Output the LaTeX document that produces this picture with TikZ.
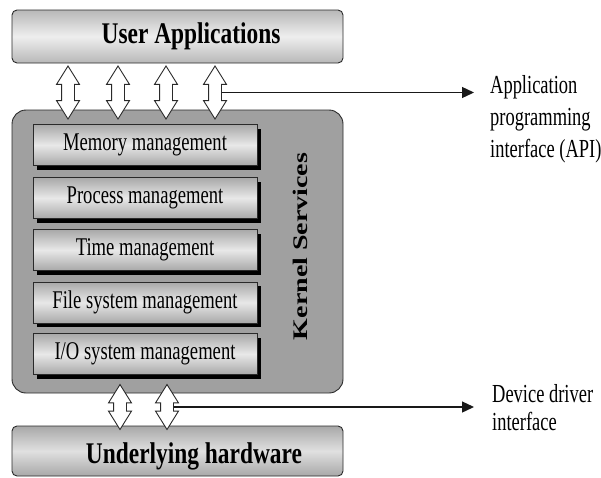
\documentclass[tikz,border=0pt]{standalone}
\usepackage{fontspec}
\usepackage{graphicx}
\usetikzlibrary{shapes.arrows,arrows.meta,calc}
\setmainfont{Liberation Serif}
\newfontfamily\titlefont{Liberation Serif}[FakeStretch=0.78]
\newfontfamily\boxfont{Liberation Serif}[FakeStretch=0.73]
\newfontfamily\notefont{Liberation Serif}[FakeStretch=0.71]

\definecolor{inkline}{HTML}{2A2A2A}
\definecolor{kernelfill}{HTML}{A0A0A0}
\definecolor{titleedge}{HTML}{B8B8B8}
\definecolor{titlemid}{HTML}{EEEEEE}
\definecolor{hwedge}{HTML}{A8A8A8}
\definecolor{hwmid}{HTML}{E0E0E0}
\definecolor{svcedge}{HTML}{A8A8A8}
\definecolor{svcmid}{HTML}{E8E8E8}

\begin{document}
\begin{tikzpicture}[x=1pt,y=-1pt,
  titlebox/.style={draw=inkline, line width=0.9pt, rounded corners=5pt,
    top color=titleedge, bottom color=titleedge, middle color=titlemid,
    minimum width=331pt, inner sep=0pt},
  hwbox/.style={titlebox, top color=hwedge, bottom color=hwedge, middle color=hwmid},
  titletext/.style={font=\titlefont\bfseries\fontsize{30}{30}\selectfont, inner sep=0pt, anchor=base},
  kernelbox/.style={draw=inkline, line width=0.9pt, rounded corners=14pt,
    fill=kernelfill, inner sep=0pt},
  svcshadow/.style={fill=black, minimum width=224pt, minimum height=41pt, inner sep=0pt},
  svcbox/.style={draw=inkline, line width=0.9pt, top color=svcedge, bottom color=svcedge,
    middle color=svcmid, minimum width=224pt, minimum height=41pt, inner sep=0pt,
    font=\boxfont\fontsize{25.5}{26}\selectfont},
  bigarrow/.style={double arrow, draw=inkline, fill=white, line width=0.9pt,
    rotate=90, inner xsep=0pt, inner ysep=6pt, double arrow head extend=5pt,
    double arrow tip angle=64, minimum width=22pt},
  conn/.style={draw=black!90, line width=1.3pt, -{Triangle[length=12pt,width=11pt]}},
  note/.style={font=\notefont\fontsize{26}{32}\selectfont, align=left, inner sep=0pt, anchor=north west}
]
\useasboundingbox (0,0) rectangle (601,477);

% outer layers
\node[titlebox, minimum height=53pt] (user) at (177.5,36.5) {};
\node[titletext] (userlbl) at (191,43) {User Applications};

\node[kernelbox, minimum width=331pt, minimum height=283pt] (kernel) at (177.5,251.5) {};

\node[hwbox, minimum height=50pt] (hw) at (177.5,451) {};
\node[titletext] (hwlbl) at (194,463) {Underlying hardware};

% kernel services stack, each with a hard shadow
\foreach \yy in {145,198,250,302.5,354}
  \node[svcshadow] at (149,\yy+4) {};
\node[svcbox] (mem)  at (145,145)   {Memory management};
\node[svcbox] (proc) at (145,198)   {Process management};
\node[svcbox] (time) at (145,250)   {Time management};
\node[svcbox] (fs)   at (145,302.5) {File system management};
\node[svcbox] (io)   at (145,354)   {I/O system management};

\node[rotate=90, inner sep=0pt, font=\bfseries\fontsize{28}{28}\selectfont] (ks) at (300,246.5)
  {\scalebox{1}[0.74]{Kernel Services}};

% API arrows between applications and kernel
\node[bigarrow, minimum height=53pt] (a1) at (68,92.5) {};
\node[bigarrow, minimum height=53pt] (a2) at (118,92.5) {};
\node[bigarrow, minimum height=53pt] (a3) at (166,92.5) {};
\node[bigarrow, minimum height=53pt] (a4) at (215,92.5) {};

% driver arrows between kernel and hardware
\node[bigarrow, minimum height=45pt] (b1) at (120,407) {};
\node[bigarrow, minimum height=45pt] (b2) at (167,407) {};

% interface callouts
\coordinate (apitip) at (474,93);
\coordinate (devtip) at (474,410);
\draw[conn] (a4.south) -- (a4.south -| apitip);
\draw[conn] (b2.south) -- (b2.south -| devtip);

\node[note] (api) at (490,75) {Application\\programming\\interface (API)};
\node[note, font=\notefont\fontsize{26}{28}\selectfont] (dev) at (492,384) {Device driver\\interface};
\end{tikzpicture}
\end{document}
